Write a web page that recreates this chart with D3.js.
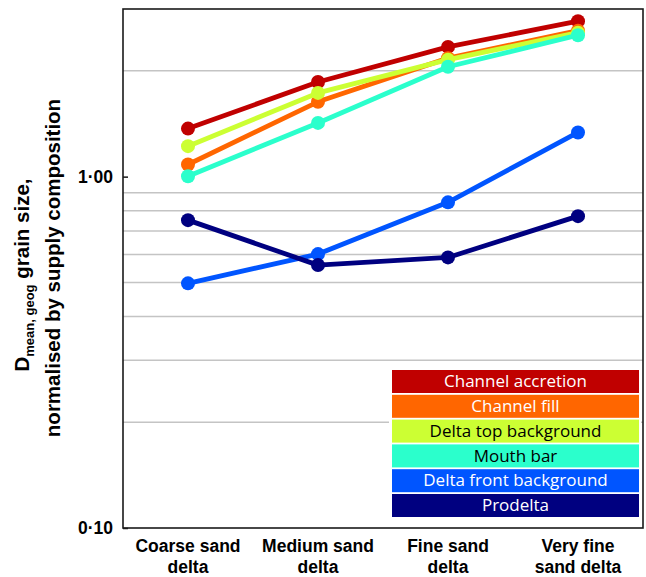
<!DOCTYPE html>
<html>
<head>
<meta charset="utf-8">
<script src="https://cdn.jsdelivr.net/npm/d3@7/dist/d3.min.js"></script>
<style>
  body { margin: 0; background: #fff; }
  svg { display: block; }
</style>
</head>
<body>
<svg id="chart" width="646" height="577"></svg>
<script>
// ---- Data ----
const categories = ["Coarse sand delta", "Medium sand delta", "Fine sand delta", "Very fine sand delta"];
const categoryLines = [["Coarse sand", "delta"], ["Medium sand", "delta"], ["Fine sand", "delta"], ["Very fine", "sand delta"]];
const seriesNames = ["Channel accretion", "Channel fill", "Delta top background", "Mouth bar", "Delta front background", "Prodelta"];
const channelAccretion = [1.37, 1.86, 2.34, 2.77];
const channelFill = [1.083, 1.633, 2.174, 2.603];
const deltaTopBackground = [1.221, 1.731, 2.152, 2.569];
const mouthBar = [1.003, 1.422, 2.055, 2.527];
const deltaFrontBackground = [0.497, 0.602, 0.845, 1.336];
const prodelta = [0.752, 0.560, 0.589, 0.772];
const seriesColors = ["#c00000", "#ff6600", "#ccff33", "#2bffcc", "#0055ff", "#000080"];
const legendTextColors = ["#ffffff", "#ffffff", "#000000", "#000000", "#ffffff", "#ffffff"];
const tickValues = [0.1, 1];
const tickLabels = ["0·10", "1·00"];
const gridValues = [0.2, 0.3, 0.4, 0.5, 0.6, 0.7, 0.8, 0.9, 2];
const yDomain = [0.1, 3];

const seriesValues = [channelAccretion, channelFill, deltaTopBackground, mouthBar, deltaFrontBackground, prodelta];

// ---- Layout ----
const svg = d3.select("#chart");
const pLeft = 123, pRight = 643, pTop = 9, pBottom = 528;

const x = d3.scalePoint().domain(categories).range([pLeft, pRight]).padding(0.5);
const y = d3.scaleLog().domain(yDomain).range([pBottom, pTop]);

svg.append("rect").attr("width", 646).attr("height", 577).attr("fill", "#fff");

// gridlines
svg.append("g").selectAll("line").data(gridValues).join("line")
  .attr("x1", pLeft).attr("x2", pRight)
  .attr("y1", d => y(d)).attr("y2", d => y(d))
  .attr("stroke", "#c4c4c4").attr("stroke-width", 1.5);

// series
const lineGen = d3.line().x((d, i) => x(categories[i])).y(d => y(d));
seriesValues.forEach((vals, si) => {
  const g = svg.append("g");
  g.append("path").datum(vals).attr("d", lineGen)
    .attr("fill", "none").attr("stroke", seriesColors[si]).attr("stroke-width", 4.8)
    .attr("stroke-linejoin", "round");
  g.selectAll("circle").data(vals).join("circle")
    .attr("cx", (d, i) => x(categories[i])).attr("cy", d => y(d)).attr("r", 7)
    .attr("fill", seriesColors[si]);
});

// legend
const lgX = 392, lgW = 247, lgTop = 370, lgPitch = 24.8, lgH = 23;
svg.append("rect").attr("x", 389).attr("y", 366).attr("width", 252).attr("height", 155).attr("fill", "#fff");
const lg = svg.append("g");
seriesNames.forEach((name, i) => {
  lg.append("rect").attr("x", lgX).attr("y", lgTop + i * lgPitch).attr("width", lgW).attr("height", lgH)
    .attr("fill", seriesColors[i]);
  lg.append("text").attr("x", lgX + lgW / 2).attr("y", lgTop + i * lgPitch + 17.2)
    .attr("text-anchor", "middle").attr("fill", legendTextColors[i])
    .style("font-family", "'Open Sans', sans-serif").style("font-size", "17px")
    .text(name);
});

// frame
svg.append("rect").attr("x", pLeft).attr("y", pTop).attr("width", pRight - pLeft).attr("height", pBottom - pTop)
  .attr("fill", "none").attr("stroke", "#1a1a1a").attr("stroke-width", 1.6);

// y axis
const yAxis = d3.axisLeft(y).tickValues(tickValues)
  .tickFormat((d, i) => tickLabels[i]).tickSizeInner(-5).tickSizeOuter(0).tickPadding(10);
const ya = svg.append("g").attr("transform", `translate(${pLeft},0)`).call(yAxis);
ya.select(".domain").remove();
ya.selectAll(".tick line").attr("stroke", "#1a1a1a").attr("stroke-width", 1.5);
ya.selectAll(".tick text").attr("fill", "#000")
  .style("font-family", "'Liberation Sans', Arial, sans-serif").style("font-size", "17.5px").style("font-weight", "bold");

// x labels
const xl = svg.append("g");
categories.forEach((c, i) => {
  const t = xl.append("text").attr("text-anchor", "middle")
    .style("font-family", "'Liberation Sans', Arial, sans-serif").style("font-size", "17.5px").style("font-weight", "bold");
  categoryLines[i].forEach((ln, j) => {
    t.append("tspan").attr("x", x(c)).attr("y", 552 + j * 21).text(ln);
  });
});

// y title
const t1 = svg.append("text").attr("transform", "translate(29,275) rotate(-90)").attr("text-anchor", "middle")
  .style("font-family", "'Liberation Sans', Arial, sans-serif").style("font-size", "20.5px").style("font-weight", "bold");
t1.append("tspan").text("D");
t1.append("tspan").attr("dy", 5).style("font-size", "13px").text("mean, geog");
t1.append("tspan").attr("dy", -5).text(" grain size,");
svg.append("text").attr("transform", "translate(60,268) rotate(-90)").attr("text-anchor", "middle")
  .style("font-family", "'Liberation Sans', Arial, sans-serif").style("font-size", "20.5px").style("font-weight", "bold")
  .text("normalised by supply composition");
</script>
</body>
</html>
